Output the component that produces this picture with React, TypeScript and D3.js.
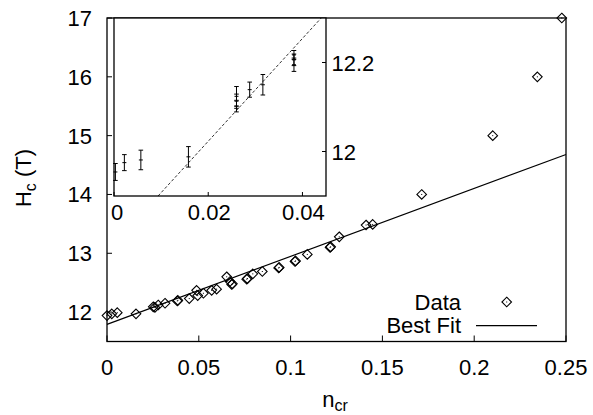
import React from "react";
import * as d3 from "d3";

// Main data (n_cr, H_c)
const mainX = [0, 0.0026, 0.0056, 0.0158, 0.0252, 0.0261, 0.0279, 0.0316, 0.0383, 0.0386, 0.0448, 0.0488, 0.0494, 0.0525, 0.057, 0.0597, 0.0652, 0.067, 0.0679, 0.0683, 0.0761, 0.0765, 0.0794, 0.0846, 0.0935, 0.0938, 0.1024, 0.1027, 0.1091, 0.1215, 0.1218, 0.1265, 0.1411, 0.1447, 0.1714, 0.2101, 0.2344, 0.2477];
const mainY = [11.94, 11.97, 11.99, 11.97, 12.09, 12.08, 12.12, 12.15, 12.19, 12.2, 12.23, 12.37, 12.28, 12.32, 12.37, 12.39, 12.6, 12.52, 12.47, 12.48, 12.56, 12.57, 12.65, 12.69, 12.75, 12.76, 12.86, 12.87, 12.98, 13.1, 13.11, 13.28, 13.48, 13.49, 14.0, 15.0, 16.0, 17.0];

// Inset data with error bars
const insetX = [0.0003, 0.0022, 0.0057, 0.0158, 0.026, 0.026, 0.026, 0.0288, 0.0316, 0.0382, 0.0382, 0.0382];
const insetY = [11.954, 11.975, 11.981, 11.988, 12.124, 12.113, 12.102, 12.139, 12.15, 12.217, 12.206, 12.195];
const insetErr = [0.019, 0.018, 0.022, 0.023, 0.022, 0.016, 0.013, 0.017, 0.023, 0.01, 0.013, 0.015];

// Best fit
const fitIntercept = 11.792;
const fitSlope = 11.55;

const mainXTicks = [0, 0.05, 0.1, 0.15, 0.2, 0.25];
const mainXTickLabels = ["0", "0.05", "0.1", "0.15", "0.2", "0.25"];
const mainYTicks = [12, 13, 14, 15, 16, 17];
const insetXTicks = [0, 0.02, 0.04];
const insetXTickLabels = ["0", "0.02", "0.04"];
const insetYTicks = [12, 12.2];
const insetYTickLabels = ["12", "12.2"];

const FONT = "'Liberation Sans', Arial, Helvetica, sans-serif";

export default function App() {
  const x = d3.scaleLinear().domain([0, 0.25]).range([107, 566]);
  const y = d3.scaleLinear().domain([11.5, 17]).range([341.5, 18]);
  const ix = d3.scaleLinear().domain([0, 0.045]).range([114, 326]);
  const iy = d3.scaleLinear().domain([11.9, 12.3]).range([196, 18]);

  const fit = (v: number) => fitIntercept + fitSlope * v;
  const fitLine = d3.line<number>().x((d) => x(d)).y((d) => y(fit(d)));

  const ixLo = (11.9 - fitIntercept) / fitSlope;
  const ixHi = (12.3 - fitIntercept) / fitSlope;
  const insetLine = d3.line<number>().x((d) => ix(d)).y((d) => iy(fit(d)));

  const diamond = (cx: number, cy: number, r: number) =>
    `M${cx},${cy - r}L${cx + r},${cy}L${cx},${cy + r}L${cx - r},${cy}Z`;

  const [x0, x1] = x.range();
  const [y0, y1] = y.range();
  const [ix0, ix1] = ix.range();
  const [iy0, iy1] = iy.range();

  return (
    <svg
      width={593}
      height={415}
      style={{ position: "absolute", left: 0, top: 0, background: "#fff" }}
      fontFamily={FONT}
    >
      <rect x={0} y={0} width={593} height={415} fill="#fff" />
      {/* fit line */}
      <path d={fitLine([0, 0.25]) || ""} fill="none" stroke="#000" strokeWidth={1.2} />
      {/* data points */}
      {mainX.map((v, i) => (
        <g key={i}>
          <path d={diamond(x(v), y(mainY[i]), 4.8)} fill="none" stroke="#000" strokeWidth={1.1} />
          <rect x={x(v) - 0.5} y={y(mainY[i]) - 0.5} width={1} height={1} fill="#000" />
        </g>
      ))}
      {/* main frame */}
      <rect x={x0} y={y1} width={x1 - x0} height={y0 - y1} fill="none" stroke="#000" strokeWidth={1.3} />
      {mainXTicks.map((t, i) => (
        <g key={"xt" + i}>
          <line x1={x(t)} x2={x(t)} y1={y0} y2={y0 - 6} stroke="#000" strokeWidth={1} />
          <text x={x(t)} y={375} fontSize={22} textAnchor="middle">{mainXTickLabels[i]}</text>
        </g>
      ))}
      {mainYTicks.map((t, i) => (
        <g key={"yt" + i}>
          <line x1={x0} x2={x0 + 5} y1={y(t)} y2={y(t)} stroke="#000" strokeWidth={1} />
          <text x={92} y={y(t) + 8} fontSize={22} textAnchor="end">{t}</text>
        </g>
      ))}
      {/* axis titles */}
      <text x={335} y={407} fontSize={22} textAnchor="middle">
        n<tspan fontSize={16} dy={4}>cr</tspan>
      </text>
      <text transform="translate(31,178) rotate(-90)" fontSize={22} textAnchor="middle">
        H<tspan fontSize={16} dy={5}>c</tspan><tspan dy={-5}> (T)</tspan>
      </text>
      {/* legend */}
      <text x={461} y={310} fontSize={22} textAnchor="end">Data</text>
      <path d={diamond(506.7, 302, 4.8)} fill="none" stroke="#000" strokeWidth={1.1} />
      <rect x={506.2} y={301.5} width={1} height={1} fill="#000" />
      <text x={461} y={333} fontSize={22} textAnchor="end">Best Fit</text>
      <line x1={476} x2={537} y1={325.7} y2={325.7} stroke="#000" strokeWidth={1.2} />

      {/* inset */}
      <rect x={ix0} y={iy1} width={ix1 - ix0} height={iy0 - iy1} fill="#fff" stroke="none" />
      <path d={insetLine([ixLo, ixHi]) || ""} fill="none" stroke="#000" strokeWidth={0.8} strokeDasharray="3,2" />
      {insetX.map((v, i) => {
        const cx = ix(v);
        const cy = iy(insetY[i]);
        const top = iy(insetY[i] + insetErr[i]);
        const bot = iy(insetY[i] - insetErr[i]);
        return (
          <g key={"ie" + i} stroke="#000" strokeWidth={1}>
            <line x1={cx} x2={cx} y1={top} y2={bot} />
            <line x1={cx - 2.3} x2={cx + 2.3} y1={top} y2={top} />
            <line x1={cx - 2.3} x2={cx + 2.3} y1={bot} y2={bot} />
            <line x1={cx - 2} x2={cx + 2} y1={cy} y2={cy} />
          </g>
        );
      })}
      <rect x={ix0} y={iy1} width={ix1 - ix0} height={iy0 - iy1} fill="none" stroke="#000" strokeWidth={1.3} />
      {insetXTicks.map((t, i) => (
        <g key={"ixt" + i}>
          <line x1={ix(t)} x2={ix(t)} y1={iy0} y2={iy0 - 4} stroke="#000" strokeWidth={1} />
          <text x={ix(t) + (i === 0 ? 3 : 1)} y={220} fontSize={22} textAnchor="middle">{insetXTickLabels[i]}</text>
        </g>
      ))}
      {insetYTicks.map((t, i) => (
        <g key={"iyt" + i}>
          <line x1={ix1} x2={ix1 - 4} y1={iy(t)} y2={iy(t)} stroke="#000" strokeWidth={1} />
          <text x={331.5} y={iy(t) + 8} fontSize={22} textAnchor="start">{insetYTickLabels[i]}</text>
        </g>
      ))}
    </svg>
  );
}
